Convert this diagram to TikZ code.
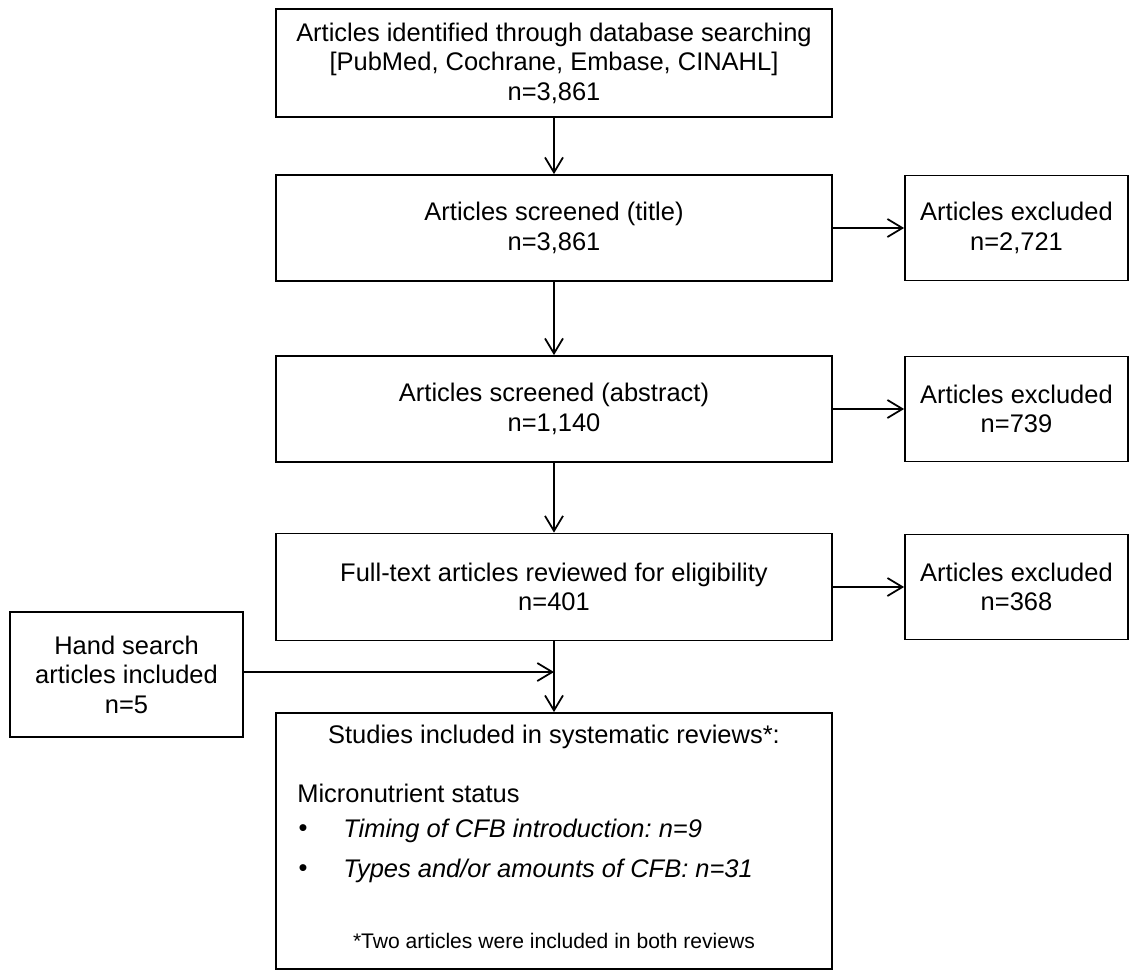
\documentclass[tikz,border=0pt]{standalone}
\usepackage{fontspec}
\setmainfont{Liberation Sans}
\usetikzlibrary{arrows.meta}
\frenchspacing

\begin{document}
\begin{tikzpicture}[x=0.02cm, y=-0.02cm,
	txt/.style={inner sep=0pt, font=\fontsize{14.5}{16.8}\selectfont},
	box/.style={txt, draw, line width=1pt, align=center},
	mainbox/.style={box, minimum width=11.12cm},
	exclbox/.style={box, minimum width=4.46cm, minimum height=2.1cm},
	arr/.style={line width=1pt, -{Straight Barb[length=0.3cm, width=0.36cm]}}]
		
		\useasboundingbox (0,0) rectangle (1130,970);
		
		% database search
		\node [mainbox, minimum height=2.16cm] (ident) at (554,63) {Articles identified through database searching\\ {[}PubMed, Cochrane, Embase, CINAHL{]}\\ n=3,861};
		
		% screening of titles
		\node [mainbox, minimum height=2.12cm] (title) at (554,228) {Articles screened (title)\\ n=3,861};
		\node [exclbox] (excl1) at (1016.5,228) {Articles excluded\\ n=2,721};
		
		% screening of abstracts
		\node [mainbox, minimum height=2.12cm] (abstr) at (554,409) {Articles screened (abstract)\\ n=1,140};
		\node [exclbox] (excl2) at (1016.5,409) {Articles excluded\\ n=739};
		
		% full text
		\node [mainbox, minimum height=2.14cm] (full) at (554,587) {Full-text articles reviewed for eligibility\\ n=401};
		\node [exclbox] (excl3) at (1016.5,587) {Articles excluded\\ n=368};
		
		% hand search
		\node [box, minimum width=4.66cm, minimum height=2.5cm] (hand) at (126.5,674.5) {Hand search\\ articles included\\ n=5};
		
		% included studies
		\node [draw, line width=1pt, minimum width=11.12cm, minimum height=5.12cm] (incl) at (554,841) {};
		\node [txt] (incltitle) at (554,737) {Studies included in systematic reviews*:};
		\node [txt, anchor=west] (status) at (297,793) {Micronutrient status};
		\node [txt] (bul1) at (303,831) {\textbullet};
		\node [txt, anchor=west] (item1) at (343,831) {\itshape Timing of CFB introduction: n=9};
		\node [txt] (bul2) at (303,871) {\textbullet};
		\node [txt, anchor=west] (item2) at (343,871) {\itshape Types and/or amounts of CFB: n=31};
		\node [inner sep=0pt, font=\fontsize{12}{14}\selectfont] (note) at (554,941) {*Two articles were included in both reviews};
		
		% arrows
		\coordinate (join) at (554,672);
		\draw [arr] (ident) -- (title);
		\draw [arr] (title) -- (excl1);
		\draw [arr] (title) -- (abstr);
		\draw [arr] (abstr) -- (excl2);
		\draw [arr] (abstr) -- (full);
		\draw [arr] (full) -- (excl3);
		\draw [arr] (full) -- (incl);
		\draw [arr] (hand.east |- join) -- (join);
		
\end{tikzpicture}
\end{document}
